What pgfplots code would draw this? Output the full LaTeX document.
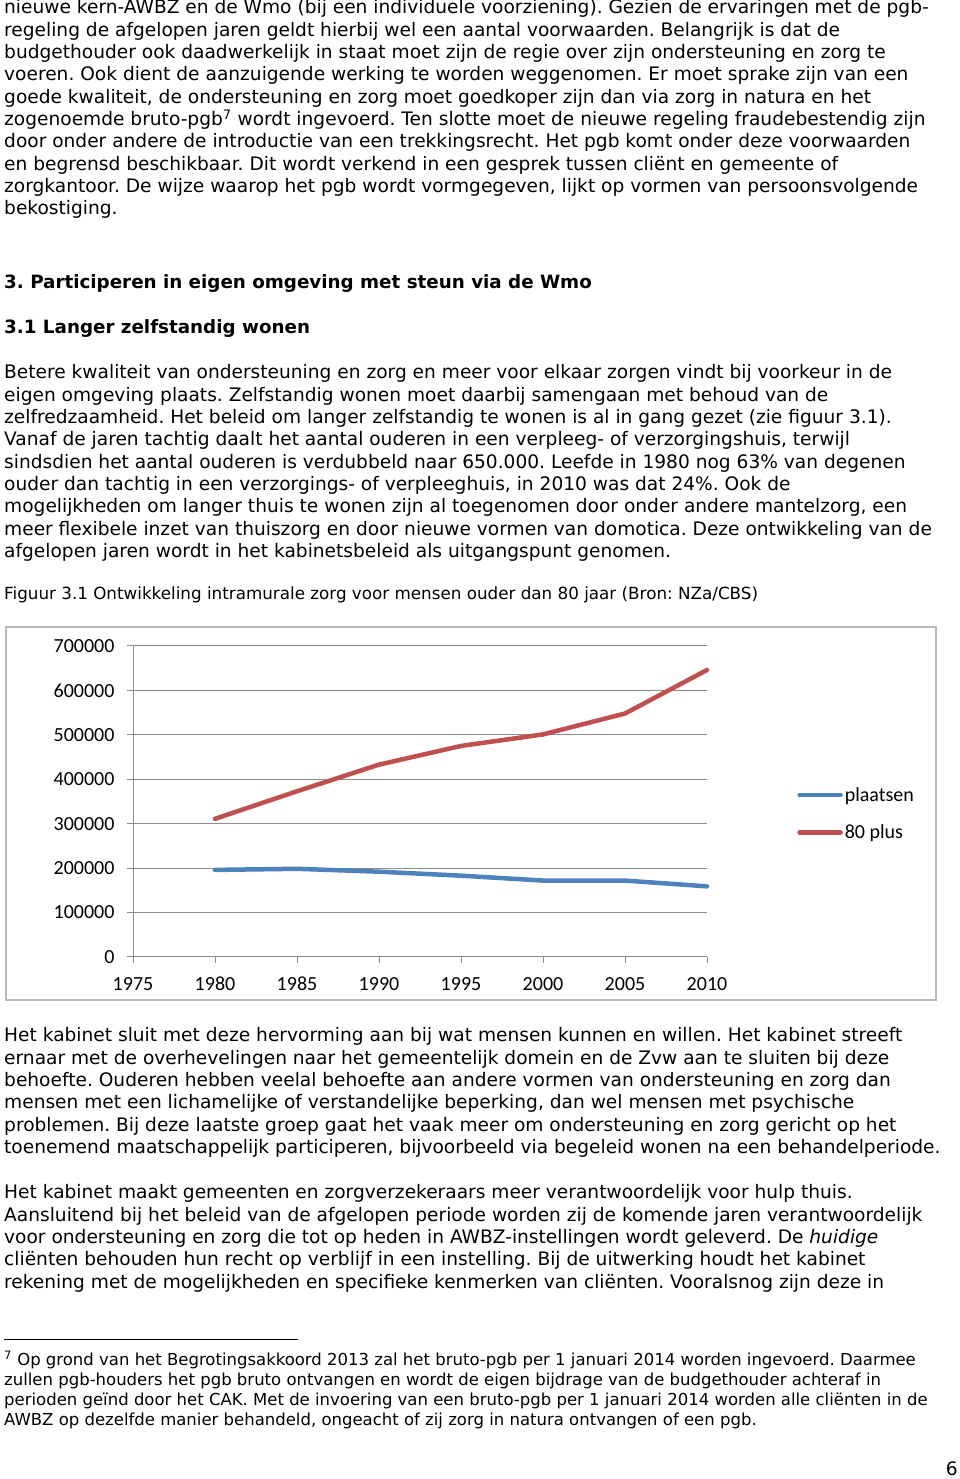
\documentclass[border=0pt]{standalone}
\usepackage{pgfplots}
\pgfplotsset{compat=1.18}
\usepackage{fontspec}
\setmainfont{DejaVu Sans}
\newfontfamily\calibri{Carlito}
\definecolor{xlblue}{HTML}{4F81BD}
\definecolor{xlred}{HTML}{C0504D}
\definecolor{gridgray}{HTML}{8C8C8C}
\newcommand\bodyfont{\fontsize{18.6}{22}\selectfont\frenchspacing}
\newcommand\headfont{\fontsize{18.3}{22}\selectfont\frenchspacing\bfseries}
\newcommand\smallfont{\fontsize{16.5}{20}\selectfont\frenchspacing}
\newcommand\capfont{\fontsize{16.75}{20}\selectfont\frenchspacing}
\newcommand\Ln[2]{\node[anchor=base west,inner sep=0pt,font=\bodyfont] at (4pt,{(1479-#1)*1pt}) {#2};}
\newcommand\Hd[2]{\node[anchor=base west,inner sep=0pt,font=\headfont] at (4pt,{(1479-#1)*1pt}) {#2};}
\newcommand\Sm[2]{\node[anchor=base west,inner sep=0pt,font=\smallfont] at (4pt,{(1479-#1)*1pt}) {#2};}
\begin{document}
\begin{tikzpicture}
\path[fill=white,use as bounding box] (0pt,0pt) rectangle (960pt,1479pt);
% --- block 1
\Ln{14}{nieuwe kern-AWBZ en de Wmo (bij een individuele voorziening). Gezien de ervaringen met de pgb-}
\Ln{36.3}{regeling de afgelopen jaren geldt hierbij wel een aantal voorwaarden. Belangrijk is dat de}
\Ln{58.6}{budgethouder ook daadwerkelijk in staat moet zijn de regie over zijn ondersteuning en zorg te}
\Ln{80.9}{voeren. Ook dient de aanzuigende werking te worden weggenomen. Er moet sprake zijn van een}
\Ln{103.2}{goede kwaliteit, de ondersteuning en zorg moet goedkoper zijn dan via zorg in natura en het}
\Ln{125.5}{zogenoemde bruto-pgb\textsuperscript{7} wordt ingevoerd. Ten slotte moet de nieuwe regeling fraudebestendig zijn}
\Ln{147.8}{door onder andere de introductie van een trekkingsrecht. Het pgb komt onder deze voorwaarden}
\Ln{170.1}{en begrensd beschikbaar. Dit wordt verkend in een gesprek tussen cliënt en gemeente of}
\Ln{192.4}{zorgkantoor. De wijze waarop het pgb wordt vormgegeven, lijkt op vormen van persoonsvolgende}
\Ln{214.7}{bekostiging.}
% --- headings
\Hd{289}{3. Participeren in eigen omgeving met steun via de Wmo}
\Hd{334}{3.1 Langer zelfstandig wonen}
% --- block 2
\Ln{379}{Betere kwaliteit van ondersteuning en zorg en meer voor elkaar zorgen vindt bij voorkeur in de}
\Ln{401.3}{eigen omgeving plaats. Zelfstandig wonen moet daarbij samengaan met behoud van de}
\Ln{423.6}{zelfredzaamheid. Het beleid om langer zelfstandig te wonen is al in gang gezet (zie figuur 3.1).}
\Ln{445.9}{Vanaf de jaren tachtig daalt het aantal ouderen in een verpleeg- of verzorgingshuis, terwijl}
\Ln{468.2}{sindsdien het aantal ouderen is verdubbeld naar 650.000. Leefde in 1980 nog 63\% van degenen}
\Ln{490.5}{ouder dan tachtig in een verzorgings- of verpleeghuis, in 2010 was dat 24\%. Ook de}
\Ln{512.8}{mogelijkheden om langer thuis te wonen zijn al toegenomen door onder andere mantelzorg, een}
\Ln{535.1}{meer flexibele inzet van thuiszorg en door nieuwe vormen van domotica. Deze ontwikkeling van de}
\Ln{557.4}{afgelopen jaren wordt in het kabinetsbeleid als uitgangspunt genomen.}
\node[anchor=base west,inner sep=0pt,font=\capfont] at (4pt,879pt) {Figuur 3.1 Ontwikkeling intramurale zorg voor mensen ouder dan 80 jaar (Bron: NZa/CBS)};
% --- chart frame
\draw[gray!55,line width=1.5pt] (6pt,852pt) rectangle (936pt,479pt);
\begin{axis}[
  at={(133pt,522pt)}, anchor=south west,
  scale only axis, width=574pt, height=311pt,
  xmin=1975, xmax=2010, ymin=0, ymax=700000,
  xtick={1975,1980,...,2010},
  ytick={0,100000,...,700000},
  scaled y ticks=false,
  xticklabel style={/pgf/number format/1000 sep={},yshift=-11pt,text height=13pt,text depth=0pt},
  yticklabel style={/pgf/number format/fixed,/pgf/number format/1000 sep={},xshift=-9pt},
  /pgf/number format/assume math mode=true,
  tick label style={font=\calibri\fontsize{20}{24}\selectfont,text=black},
  axis x line*=bottom, axis y line*=left,
  axis line style={gridgray,line width=1pt,-},
  tick style={gridgray,line width=1pt},
  major tick length=6pt, tick align=outside,
  ymajorgrids, grid style={gridgray,line width=1pt},
  clip=false,
  legend style={at={(1.157,0.461)},anchor=west,draw=none,fill=none,
     font=\calibri\fontsize{20}{24}\selectfont,inner sep=0pt,row sep=18pt,
     /tikz/every even column/.append style={column sep=0pt}},
  legend cell align=left,
  legend image code/.code={\draw[#1] (0pt,0pt) -- (41pt,0pt);},
]
\addplot[xlblue,line width=4.5pt,line cap=round,line join=round] coordinates {
 (1980,196000) (1985,198500) (1990,192000) (1995,183000) (2000,172000) (2005,172000) (2010,159000)};
\addlegendentry{plaatsen}
\addplot[xlred,line width=4.5pt,line cap=round,line join=round] coordinates {
 (1980,311000) (1985,373000) (1990,433000) (1995,475000) (2000,501000) (2005,548000) (2010,646000)};
\addlegendentry{80 plus}
\end{axis}
% --- block 3
\Ln{1042}{Het kabinet sluit met deze hervorming aan bij wat mensen kunnen en willen. Het kabinet streeft}
\Ln{1064.3}{ernaar met de overhevelingen naar het gemeentelijk domein en de Zvw aan te sluiten bij deze}
\Ln{1086.6}{behoefte. Ouderen hebben veelal behoefte aan andere vormen van ondersteuning en zorg dan}
\Ln{1108.9}{mensen met een lichamelijke of verstandelijke beperking, dan wel mensen met psychische}
\Ln{1131.2}{problemen. Bij deze laatste groep gaat het vaak meer om ondersteuning en zorg gericht op het}
\Ln{1153.5}{toenemend maatschappelijk participeren, bijvoorbeeld via begeleid wonen na een behandelperiode.}
% --- block 4
\Ln{1199}{Het kabinet maakt gemeenten en zorgverzekeraars meer verantwoordelijk voor hulp thuis.}
\Ln{1221.3}{Aansluitend bij het beleid van de afgelopen periode worden zij de komende jaren verantwoordelijk}
\Ln{1243.6}{voor ondersteuning en zorg die tot op heden in AWBZ-instellingen wordt geleverd. De \textit{huidige}}
\Ln{1265.9}{cliënten behouden hun recht op verblijf in een instelling. Bij de uitwerking houdt het kabinet}
\Ln{1288.2}{rekening met de mogelijkheden en specifieke kenmerken van cliënten. Vooralsnog zijn deze in}
% --- footnote
\draw[black,line width=1pt] (4pt,139pt) -- (298pt,139pt);
\Sm{1366}{\textsuperscript{7} Op grond van het Begrotingsakkoord 2013 zal het bruto-pgb per 1 januari 2014 worden ingevoerd. Daarmee}
\Sm{1386}{zullen pgb-houders het pgb bruto ontvangen en wordt de eigen bijdrage van de budgethouder achteraf in}
\Sm{1406}{perioden geïnd door het CAK. Met de invoering van een bruto-pgb per 1 januari 2014 worden alle cliënten in de}
\Sm{1426}{AWBZ op dezelfde manier behandeld, ongeacht of zij zorg in natura ontvangen of een pgb.}
\node[anchor=base east,inner sep=0pt,font=\bodyfont] at (958pt,3pt) {6};
\end{tikzpicture}
\end{document}
